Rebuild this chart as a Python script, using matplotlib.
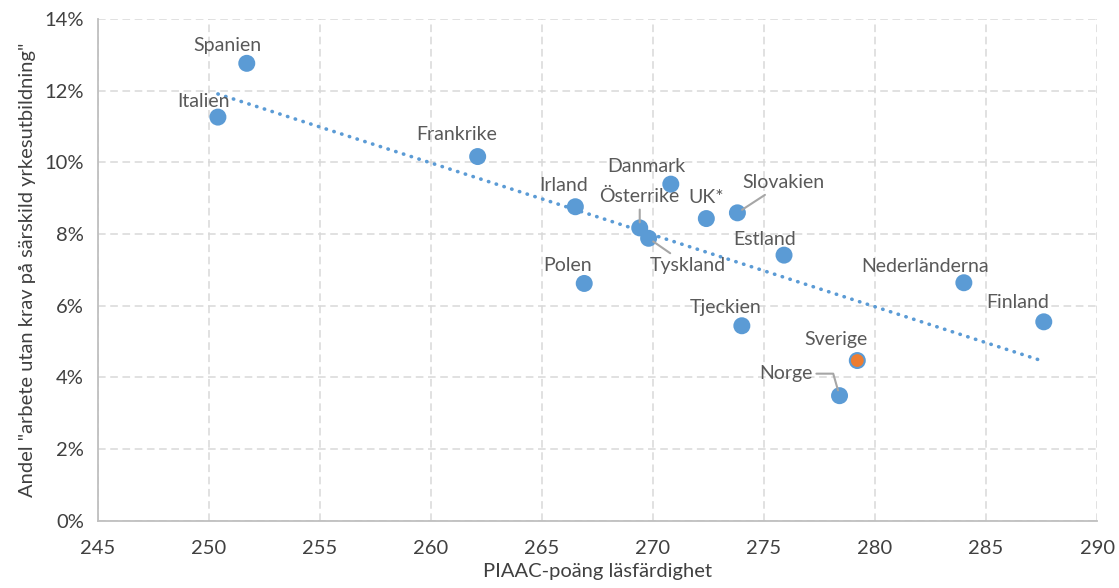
import numpy as np
import matplotlib
matplotlib.use("Agg")
import matplotlib.pyplot as plt
from matplotlib.ticker import FuncFormatter

plt.rcParams['font.family'] = ['Lato', 'DejaVu Sans']

# data
countries = ["Spanien", "Italien", "Frankrike", "Danmark", "Irland", "Österrike",
             "UK*", "Slovakien", "Estland", "Tyskland", "Polen", "Tjeckien",
             "Nederländerna", "Finland", "Sverige", "Norge"]
piaac = [251.7, 250.4, 262.1, 270.8, 266.5, 269.4,
         272.4, 273.8, 275.9, 269.8, 266.9, 274.0,
         284.0, 287.6, 279.2, 278.4]
share = [12.76, 11.26, 10.16, 9.39, 8.76, 8.17,
         8.43, 8.59, 7.41, 7.88, 6.62, 5.44,
         6.64, 5.55, 4.47, 3.49]

x_ticks = [245, 250, 255, 260, 265, 270, 275, 280, 285, 290]
y_ticks = [0, 2, 4, 6, 8, 10, 12, 14]

# label offsets in pixels (dx, dy), and which ones have a leader line
label_offset = {
    "Spanien": (-19, 18), "Italien": (-14, 16), "Frankrike": (-21, 22),
    "Danmark": (-24, 18), "Irland": (-12, 21), "Österrike": (0, 31),
    "UK*": (0, 21), "Slovakien": (46, 30), "Estland": (-19, 16),
    "Tyskland": (39, -27), "Polen": (-17, 18), "Tjeckien": (-16, 18),
    "Nederländerna": (-39, 16), "Finland": (-26, 19), "Sverige": (-21, 21),
    "Norge": (-54, 22),
}
leader = {"Österrike": "arc3", "Tyskland": "arc3", "Slovakien": "arc3",
          "Norge": "angle,angleA=0,angleB=106,rad=0"}

blue = "#5B9BD5"
orange = "#ED7D31"
txt = "#595959"

fig = plt.figure(figsize=(11.19, 5.88), dpi=100)
ax = fig.add_axes([0.0876, 0.1143, 0.8928, 0.8536])

# trend line (linear fit over the data range)
k, m = np.polyfit(piaac, share, 1)
xt = np.array([min(piaac), max(piaac)])
ax.plot(xt, k * xt + m, color=blue, lw=2.6, ls=(0, (0.1, 2.15)),
        dash_capstyle='round', zorder=2)

colors = [orange if c == "Sverige" else blue for c in countries]
ax.scatter(piaac, share, s=115, c=colors, edgecolors=blue, linewidths=1.5, zorder=3)

for c, x, y in zip(countries, piaac, share):
    dx, dy = label_offset[c]
    if c in leader:
        ax.annotate(c, (x, y), xytext=(dx, dy), textcoords='offset pixels',
                    ha='center', va='center', fontsize=14, color=txt,
                    arrowprops=dict(arrowstyle='-', color='#A6A6A6', lw=1.5,
                                    shrinkA=1, shrinkB=4,
                                    connectionstyle=leader[c]),
                    zorder=4)
    else:
        ax.annotate(c, (x, y), xytext=(dx, dy), textcoords='offset pixels',
                    ha='center', va='center', fontsize=14, color=txt, zorder=4)

ax.set_xlim(245, 290)
ax.set_ylim(0, 14)
ax.set_xticks(x_ticks)
ax.set_yticks(y_ticks)
ax.yaxis.set_major_formatter(FuncFormatter(lambda v, p: f"{v:.0f}%"))
ax.grid(True, color="#D9D9D9", ls=(0, (5, 3)), lw=1.1)
ax.set_axisbelow(True)
for s in ["top", "right"]:
    ax.spines[s].set_visible(False)
for s in ["left", "bottom"]:
    ax.spines[s].set_color("#BFBFBF")
    ax.spines[s].set_linewidth(1.3)
ax.tick_params(length=0, labelsize=14.5, colors="#404040", pad=10)
ax.tick_params(axis='x', pad=14)

ax.set_xlabel("PIAAC-poäng läsfärdighet", fontsize=14.5, color="#404040", labelpad=4)
ax.set_ylabel('Andel "arbete utan krav på särskild yrkesutbildning"',
              fontsize=14.5, color="#404040", labelpad=6)

fig.savefig("out.png", dpi=100)
